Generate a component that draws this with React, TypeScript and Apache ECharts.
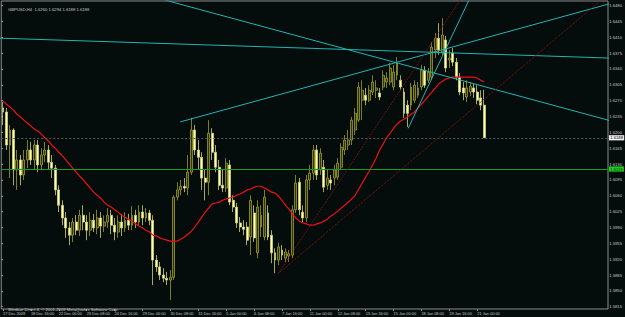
import React, { useEffect, useRef } from "react";
import * as echarts from "echarts";

const symbolName = "GBPUSD,H4";
const copyright = "Windsor Direct 4, © 2001-2009 MetaQuotes Software Corp.";
const timeLabels = [
  "17 Dec 2009", "18 Dec 16:00", "22 Dec 00:00", "23 Dec 08:00", "24 Dec 16:00",
  "29 Dec 00:00", "30 Dec 08:00", "31 Dec 16:00", "5 Jan 00:00", "6 Jan 08:00",
  "7 Jan 16:00", "11 Jan 00:00", "12 Jan 08:00", "13 Jan 16:00", "15 Jan 00:00",
  "18 Jan 08:00", "19 Jan 16:00", "21 Jan 00:00",
];
const barsPerLabel = 8;
const slotCount = 174;
const priceMin = 1.581;
const priceMax = 1.649;
const tickMin = 1.5815;
const tickMax = 1.648;
const tickStep = 0.0035;

// [open, high, low, close]
const ohlc: number[][] = [
  [1.6254,1.6267,1.6216,1.6245],[1.6245,1.6254,1.6161,1.6172],[1.6172,1.6216,1.6099,1.6205],[1.6205,1.6209,1.6083,1.6117],
  [1.6117,1.6161,1.6073,1.6139],[1.6139,1.6150,1.6083,1.6106],[1.6106,1.6161,1.6095,1.6139],[1.6139,1.6183,1.6121,1.6161],
  [1.6161,1.6179,1.6128,1.6139],[1.6139,1.6183,1.6117,1.6172],[1.6172,1.6183,1.6112,1.6128],[1.6128,1.6165,1.6117,1.6150],
  [1.6150,1.6179,1.6134,1.6161],[1.6161,1.6172,1.6117,1.6134],[1.6134,1.6150,1.6099,1.6121],[1.6121,1.6128,1.6061,1.6073],
  [1.6073,1.6083,1.6024,1.6039],[1.6039,1.6050,1.5995,1.6011],[1.6011,1.6024,1.5967,1.5989],[1.5989,1.6002,1.5951,1.5973],
  [1.5973,1.6011,1.5958,1.6002],[1.6002,1.6017,1.5973,1.5984],[1.5984,1.6029,1.5971,1.6017],[1.6017,1.6039,1.5984,1.6002],
  [1.6002,1.6017,1.5962,1.5984],[1.5984,1.6024,1.5971,1.6006],[1.6006,1.6020,1.5980,1.5989],[1.5989,1.6029,1.5975,1.6011],
  [1.6011,1.6024,1.5967,1.5993],[1.5993,1.6017,1.5980,1.6002],[1.6002,1.6033,1.5989,1.6017],[1.6017,1.6029,1.5975,1.5995],
  [1.5995,1.6011,1.5962,1.5980],[1.5980,1.6017,1.5967,1.6002],[1.6002,1.6020,1.5971,1.5989],[1.5989,1.6024,1.5980,1.6006],
  [1.6006,1.6020,1.5984,1.5995],[1.5995,1.6037,1.5984,1.6017],[1.6017,1.6029,1.5989,1.6002],[1.6002,1.6039,1.5993,1.6024],
  [1.6024,1.6039,1.5995,1.6011],[1.6011,1.6033,1.6002,1.6022],[1.6022,1.6029,1.5995,1.6006],[1.6006,1.6017,1.5863,1.5918],
  [1.5918,1.5929,1.5892,1.5903],[1.5903,1.5914,1.5874,1.5885],[1.5885,1.5900,1.5869,1.5878],[1.5878,1.5892,1.5863,1.5874],
  [1.5874,1.5896,1.5830,1.5880],[1.5880,1.6061,1.5874,1.6057],[1.6057,1.6090,1.6050,1.6073],[1.6073,1.6095,1.6061,1.6081],
  [1.6081,1.6099,1.6068,1.6077],[1.6077,1.6150,1.6061,1.6112],[1.6112,1.6232,1.6106,1.6205],[1.6205,1.6216,1.6150,1.6161],
  [1.6161,1.6183,1.6117,1.6145],[1.6145,1.6156,1.6073,1.6099],[1.6099,1.6117,1.6050,1.6090],[1.6090,1.6227,1.6061,1.6198],
  [1.6198,1.6209,1.6139,1.6156],[1.6156,1.6172,1.6112,1.6123],[1.6123,1.6139,1.6073,1.6083],[1.6083,1.6117,1.6068,1.6077],
  [1.6077,1.6143,1.6068,1.6132],[1.6128,1.6139,1.6039,1.6046],[1.6050,1.6061,1.6024,1.6035],[1.6035,1.6044,1.5989,1.6000],
  [1.6000,1.6013,1.5980,1.5991],[1.5991,1.6006,1.5973,1.5986],[1.5991,1.6002,1.5951,1.5962],[1.5969,1.6061,1.5929,1.6050],
  [1.6022,1.6039,1.5958,1.5967],[1.5934,1.6050,1.5922,1.6035],[1.5991,1.6039,1.5969,1.6017],[1.5969,1.6073,1.5962,1.6057],
  [1.6022,1.6039,1.5962,1.5969],[1.5973,1.5984,1.5911,1.5934],[1.5934,1.5944,1.5889,1.5918],[1.5918,1.5956,1.5907,1.5947],
  [1.5940,1.5951,1.5918,1.5929],[1.5922,1.5944,1.5914,1.5936],[1.5927,1.5940,1.5914,1.5932],[1.5929,1.6039,1.5922,1.6029],
  [1.6029,1.6106,1.6022,1.6088],[1.6090,1.6099,1.6017,1.6029],[1.6024,1.6039,1.6002,1.6011],[1.6011,1.6106,1.6002,1.6095],
  [1.6095,1.6128,1.6073,1.6110],[1.6110,1.6172,1.6095,1.6161],[1.6161,1.6172,1.6095,1.6106],[1.6117,1.6165,1.6106,1.6154],
  [1.6123,1.6139,1.6068,1.6079],[1.6083,1.6117,1.6073,1.6099],[1.6095,1.6106,1.6073,1.6088],[1.6099,1.6128,1.6083,1.6117],
  [1.6101,1.6143,1.6095,1.6132],[1.6123,1.6176,1.6117,1.6167],[1.6161,1.6194,1.6150,1.6183],[1.6172,1.6205,1.6161,1.6183],
  [1.6183,1.6234,1.6172,1.6227],[1.6205,1.6254,1.6194,1.6242],[1.6227,1.6311,1.6223,1.6300],[1.6271,1.6315,1.6227,1.6293],
  [1.6282,1.6298,1.6260,1.6271],[1.6271,1.6304,1.6267,1.6293],[1.6289,1.6326,1.6282,1.6311],[1.6293,1.6315,1.6276,1.6298],
  [1.6287,1.6298,1.6271,1.6278],[1.6300,1.6337,1.6293,1.6326],[1.6311,1.6333,1.6298,1.6320],[1.6311,1.6353,1.6304,1.6342],
  [1.6300,1.6349,1.6293,1.6333],[1.6326,1.6366,1.6315,1.6353],[1.6315,1.6326,1.6293,1.6300],[1.6289,1.6298,1.6232,1.6242],
  [1.6260,1.6271,1.6212,1.6242],[1.6260,1.6309,1.6249,1.6300],[1.6271,1.6315,1.6265,1.6304],[1.6282,1.6311,1.6276,1.6298],
  [1.6300,1.6349,1.6293,1.6337],[1.6337,1.6346,1.6298,1.6304],[1.6315,1.6342,1.6309,1.6333],[1.6322,1.6399,1.6315,1.6388],
  [1.6382,1.6419,1.6364,1.6408],[1.6408,1.6441,1.6371,1.6382],[1.6377,1.6452,1.6371,1.6415],[1.6404,1.6413,1.6333,1.6342],
  [1.6360,1.6382,1.6342,1.6364],[1.6375,1.6386,1.6346,1.6355],[1.6355,1.6364,1.6315,1.6322],[1.6322,1.6331,1.6282,1.6289],
  [1.6298,1.6311,1.6271,1.6287],[1.6278,1.6315,1.6267,1.6298],[1.6289,1.6311,1.6280,1.6302],[1.6298,1.6307,1.6276,1.6289],
  [1.6289,1.6304,1.6262,1.6271],[1.6276,1.6293,1.6249,1.6260],[1.6260,1.6294,1.6188,1.6188],
];

const movingAverage = [
  1.6269,1.6262,1.6256,1.6249,1.6240,1.6234,1.6227,1.6220,1.6214,1.6207,
  1.6203,1.6196,1.6188,1.6181,1.6172,1.6165,1.6156,1.6148,1.6139,1.6130,
  1.6121,1.6112,1.6103,1.6095,1.6086,1.6077,1.6068,1.6061,1.6055,1.6046,
  1.6039,1.6035,1.6029,1.6024,1.6017,1.6013,1.6008,1.6004,1.5998,1.5993,
  1.5989,1.5984,1.5980,1.5973,1.5971,1.5967,1.5964,1.5962,1.5960,1.5960,
  1.5960,1.5964,1.5969,1.5975,1.5982,1.5991,1.6002,1.6013,1.6024,1.6033,
  1.6042,1.6044,1.6046,1.6050,1.6053,1.6055,1.6057,1.6061,1.6064,1.6068,
  1.6073,1.6075,1.6079,1.6081,1.6081,1.6077,1.6073,1.6068,1.6066,1.6059,
  1.6050,1.6039,1.6031,1.6020,1.6011,1.6004,1.6000,1.5998,1.5995,1.5995,
  1.5998,1.6000,1.6004,1.6008,1.6015,1.6020,1.6026,1.6033,1.6039,1.6046,
  1.6053,1.6061,1.6075,1.6088,1.6101,1.6114,1.6128,1.6143,1.6161,1.6174,
  1.6188,1.6198,1.6209,1.6218,1.6225,1.6229,1.6234,1.6240,1.6245,1.6254,
  1.6262,1.6271,1.6280,1.6289,1.6298,1.6307,1.6313,1.6318,1.6320,1.6322,
  1.6322,1.6322,1.6322,1.6322,1.6322,1.6322,1.6320,1.6315,1.6311,
];

// trend lines: [[barIndex, price], [barIndex, price]]
const cyanLines = [
  [[-1, 1.6408], [174, 1.6364]],
  [[50.8, 1.6223], [174, 1.6484]],
  [[46.5, 1.6492], [174, 1.6226]],
  [[116.2, 1.6209], [134, 1.6498]],
];
const redLines = [
  [[79, 1.5889], [133, 1.6514]],
  [[79, 1.5889], [174, 1.6508]],
];
const bidPrice = 1.6188;
const greenLinePrice = 1.6119;

export default function App() {
  const ref = useRef<HTMLDivElement>(null);
  useEffect(() => {
    const el = ref.current;
    if (!el) return;
    const chart = echarts.init(el, null, { renderer: "svg" });
    const H = 317;
    const gl = 1, gt = 1, gr = 17, gb = 8;
    const plotH = H - gt - gb;
    const scale = plotH / (priceMax - priceMin);
    const g1Top = gt + (priceMax - tickMax) * scale;
    const g1Bottom = gb + (tickMin - priceMin) * scale;
    const font = "'Liberation Sans', Arial, sans-serif";
    const textColor = "#c8c8c8";
    const borderColor = "#8c8c8c";
    const last = ohlc[ohlc.length - 1];
    const header = `${symbolName}  ${last.map((v) => v.toFixed(4)).join(" ")}`;
    const categories = Array.from({ length: slotCount }, (_, i) => String(i));
    const candleData = ohlc.map(([o, h, l, c]) => [o, c, l, h]);
    const showAt = (i: number) => i % barsPerLabel === 0 && i / barsPerLabel < timeLabels.length;

    const trend = (pts: number[][], color: string, type: string) => ({
      type: "line",
      xAxisIndex: 1,
      yAxisIndex: 0,
      data: pts,
      symbol: "none",
      silent: true,
      clip: true,
      lineStyle: { color, width: 1, type },
      z: 5,
    });

    const option: any = {
      animation: false,
      backgroundColor: "#050c0c",
      title: [
        { text: header, left: 3, top: 2.5, textStyle: { color: textColor, fontSize: 4.2, fontWeight: "normal", fontFamily: font } },
        { text: copyright, left: 3, top: 302.5, textStyle: { color: textColor, fontSize: 4.2, fontWeight: "normal", fontFamily: font } },
      ],
      grid: [
        { left: gl, top: gt, right: gr, bottom: gb, show: true, borderColor, borderWidth: 1, backgroundColor: "transparent" },
        { left: gl, top: g1Top, right: gr, bottom: g1Bottom },
      ],
      xAxis: [
        {
          type: "category", gridIndex: 0, data: categories, boundaryGap: true,
          axisLine: { show: false },
          axisTick: { show: true, interval: (i: number) => showAt(i), alignWithLabel: true, length: 2, lineStyle: { color: borderColor } },
          axisLabel: {
            interval: (i: number) => showAt(i),
            formatter: (_v: string, i: number) => timeLabels[i / barsPerLabel] ?? "",
            align: "left", margin: 2, color: textColor, fontSize: 3.9, fontFamily: font,
          },
          splitLine: { show: false },
        },
        { type: "value", gridIndex: 0, min: -0.5, max: slotCount - 0.5, show: false },
        { type: "value", gridIndex: 1, min: 0, max: 1, show: false },
      ],
      yAxis: [
        { type: "value", gridIndex: 0, min: priceMin, max: priceMax, show: false, splitLine: { show: false } },
        {
          type: "value", gridIndex: 1, min: tickMin, max: tickMax, interval: tickStep, position: "right",
          axisLine: { show: false },
          axisTick: { show: true, length: 2, lineStyle: { color: borderColor } },
          axisLabel: { margin: 3, color: textColor, fontSize: 4.2, fontFamily: font, formatter: (v: number) => v.toFixed(4) },
          splitLine: { show: false },
        },
      ],
      series: [
        {
          type: "candlestick",
          xAxisIndex: 0, yAxisIndex: 0,
          data: candleData,
          barWidth: 2.4,
          silent: true,
          itemStyle: {
            color: "#34340c",
            color0: "#ffffb4",
            borderColor: "#9c9c2a",
            borderColor0: "#d2d272",
            borderWidth: 0.8,
          },
          z: 2,
        },
        {
          type: "line",
          xAxisIndex: 0, yAxisIndex: 0,
          data: movingAverage,
          symbol: "none",
          silent: true,
          lineStyle: { color: "#ee1111", width: 1.2 },
          z: 3,
          markLine: {
            silent: true,
            symbol: "none",
            precision: 4,
            animation: false,
            data: [
              {
                yAxis: bidPrice,
                lineStyle: { color: "#5a5a5a", type: [2, 2], width: 1 },
                label: { show: true, position: "end", distance: 1, formatter: bidPrice.toFixed(4), color: "#000", backgroundColor: "#f0f0f0", padding: [0.6, 1.2], fontSize: 4.2, fontFamily: font },
              },
              {
                yAxis: greenLinePrice,
                lineStyle: { color: "#1f9a1f", type: "solid", width: 1 },
                label: { show: true, position: "end", distance: 1, formatter: greenLinePrice.toFixed(4), color: "#003300", backgroundColor: "#1ed01e", padding: [0.6, 1.2], fontSize: 4.2, fontFamily: font },
              },
            ],
          },
        },
        ...cyanLines.map((l) => trend(l, "#22b4b4", "solid")),
        ...redLines.map((l) => trend(l, "#901414", "dotted")),
      ],
    };
    chart.setOption(option);
    return () => chart.dispose();
  }, []);
  return <div ref={ref} style={{ position: "fixed", left: 0, top: 0, width: 625, height: 317 }} />;
}
